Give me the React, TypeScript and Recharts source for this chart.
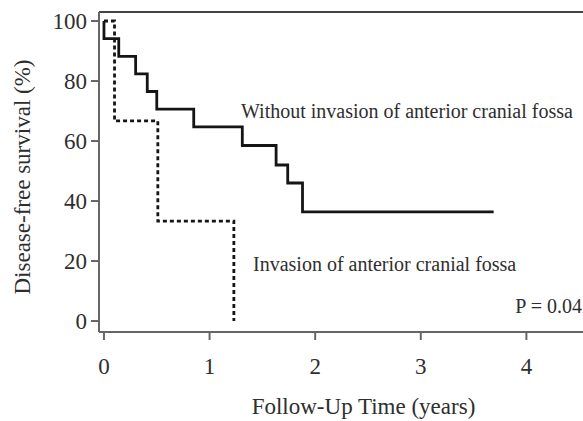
import React from "react";
import { LineChart, Line, XAxis, YAxis, ReferenceLine } from "recharts";

// Without invasion of anterior cranial fossa (solid)
const withoutTimes = [0, 0, 0.14, 0.3, 0.41, 0.5, 0.85, 1.31, 1.63, 1.74, 1.88, 3.69];
const withoutSurvival = [100, 94.1, 88.2, 82.4, 76.5, 70.6, 64.7, 58.5, 52, 46, 36.4, 36.4];

// Invasion of anterior cranial fossa (dashed)
const invasionTimes = [0, 0.1, 0.51, 1.23];
const invasionSurvival = [100, 66.7, 33.3, 0];

const xTicks = [0, 1, 2, 3, 4];
const yTicks = [0, 20, 40, 60, 80, 100];

const xTitle = "Follow-Up Time (years)";
const yTitle = "Disease-free survival (%)";
const labelWithout = "Without invasion of anterior cranial fossa";
const labelInvasion = "Invasion of anterior cranial fossa";
const pValueText = "P = 0.04";

const withoutData = withoutTimes.map((t, i) => ({ t, s: withoutSurvival[i] }));
const invasionData = invasionTimes.map((t, i) => ({ t, s: invasionSurvival[i] }));

const FONT = "'Liberation Serif', 'Times New Roman', serif";
const TEXT = "#2e2e2e";
const AXIS = "#666";

const XTitle = () => (
  <g>
    <text x={355.5} y={406} textAnchor="middle" fontFamily={FONT} fontSize={23} fill={TEXT}>
      {xTitle}
    </text>
    <text x={233} y={110} textAnchor="start" fontFamily={FONT} fontSize={20} fill={TEXT}>
      {labelWithout}
    </text>
    <text x={245} y={263} textAnchor="start" fontFamily={FONT} fontSize={20} fill={TEXT}>
      {labelInvasion}
    </text>
    <text x={574} y={305} textAnchor="end" fontFamily={FONT} fontSize={20} fill={TEXT}>
      {pValueText}
    </text>
  </g>
);

const YTitle = () => (
  <text
    x={22}
    y={169}
    textAnchor="middle"
    transform="rotate(-90 22 169)"
    fontFamily={FONT}
    fontSize={23}
    fill={TEXT}
  >
    {yTitle}
  </text>
);

export default function App() {
  return (
    <div
      style={{
        position: "fixed",
        left: 8,
        top: 8,
        width: 575,
        height: 413,
        overflow: "hidden",
        background: "#fff",
      }}
    >
      <style>{`html, body { overflow: hidden; margin: 0; }`}</style>
      <LineChart width={575} height={413} margin={{ top: 4, right: 0, bottom: 0, left: 0 }}>
        <XAxis
          type="number"
          dataKey="t"
          domain={[-0.047, 4.536]}
          ticks={xTicks}
          allowDataOverflow
          height={89}
          tickSize={8}
          tickMargin={18}
          stroke={AXIS}
          strokeWidth={2}
          tick={{ fontFamily: FONT, fontSize: 23, fill: TEXT }}
          tickLine={{ stroke: AXIS, strokeWidth: 2 }}
          label={{ content: XTitle }}
        />
        <YAxis
          type="number"
          dataKey="s"
          domain={[-3.67, 103]}
          ticks={yTicks}
          allowDataOverflow
          width={91}
          tickSize={8}
          tickMargin={4}
          stroke={AXIS}
          strokeWidth={2}
          tick={{ fontFamily: FONT, fontSize: 23, fill: TEXT }}
          tickLine={{ stroke: AXIS, strokeWidth: 2 }}
          label={{ content: YTitle }}
        />
        <ReferenceLine y={103} stroke="#444" strokeWidth={2} ifOverflow="visible" />
        <Line
          data={withoutData}
          dataKey="s"
          type="stepAfter"
          stroke="#151515"
          strokeWidth={2.8}
          dot={false}
          isAnimationActive={false}
        />
        <Line
          data={invasionData}
          dataKey="s"
          type="stepAfter"
          stroke="#151515"
          strokeWidth={2.8}
          strokeDasharray="4 3"
          dot={false}
          isAnimationActive={false}
        />
      </LineChart>
    </div>
  );
}
